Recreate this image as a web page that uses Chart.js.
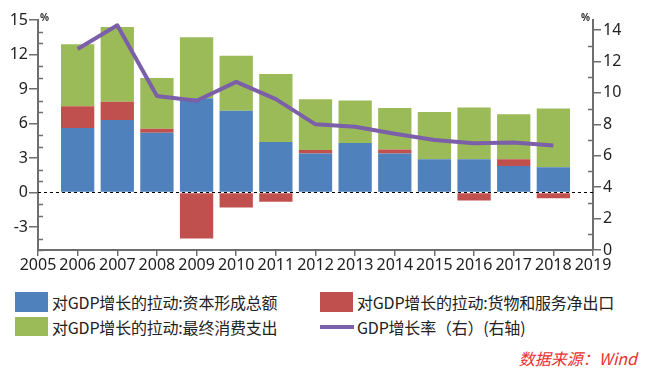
<!DOCTYPE html>
<html>
<head>
<meta charset="utf-8">
<script src="https://cdn.jsdelivr.net/npm/chart.js@4/dist/chart.umd.min.js"></script>
<style>
  html, body { margin: 0; padding: 0; background: #fff; }
  #wrap { position: relative; width: 655px; height: 380px; overflow: hidden; font-family: "Noto Sans CJK SC", "Noto Sans", sans-serif; color: #222; }
  #c { position: absolute; left: 0; top: 0; }
  .box { position: absolute; width: 33px; height: 20px; }
  .lbl { position: absolute; font-size: 16px; line-height: 20px; white-space: nowrap; letter-spacing: -0.2px; }
  .pct { position: absolute; font-size: 10px; font-weight: bold; font-family: "Noto Sans", sans-serif; color: #333; }
  #src { position: absolute; right: 18px; top: 347px; font-size: 16px; line-height: 22px; color: #e8312f; font-style: italic; }
</style>
</head>
<body>
<div id="wrap">
  <canvas id="c" width="655" height="282"></canvas>
  <div class="pct" style="left:40px; top:10px;">%</div>
  <div class="pct" style="left:581px; top:10px;">%</div>

  <div class="box" style="left:15px; top:292px; background:#4F81BD;"></div>
  <div class="lbl" style="left:52px; top:292px;">对GDP增长的拉动:资本形成总额</div>
  <div class="box" style="left:320px; top:292px; background:#C0504D;"></div>
  <div class="lbl" style="left:357px; top:292px;">对GDP增长的拉动:货物和服务净出口</div>
  <div class="box" style="left:15px; top:317px; height:19px; background:#9BBB59;"></div>
  <div class="lbl" style="left:52px; top:317px;">对GDP增长的拉动:最终消费支出</div>
  <div style="position:absolute; left:320px; top:325px; width:34px; height:4px; background:#7B5FA8;"></div>
  <div class="lbl" style="left:357px; top:317px;">GDP增长率（右）(右轴)</div>

  <div id="src">数据来源：Wind</div>
</div>
<script>
// ---- data ----
const years = [2006, 2007, 2008, 2009, 2010, 2011, 2012, 2013, 2014, 2015, 2016, 2017, 2018];
const capitalFormation = [5.6, 6.3, 5.2, 8.2, 7.1, 4.4, 3.4, 4.3, 3.4, 2.9, 2.9, 2.3, 2.2];
const netExports = [1.9, 1.6, 0.35, -4.0, -1.3, -0.8, 0.3, 0, 0.35, 0, -0.7, 0.6, -0.5];
const finalConsumption = [5.4, 6.5, 4.4, 5.3, 4.8, 5.9, 4.4, 3.7, 3.6, 4.1, 4.5, 3.9, 5.1];
const gdpGrowth = [12.8, 14.3, 9.8, 9.5, 10.7, 9.6, 8.0, 7.85, 7.4, 7.0, 6.8, 6.85, 6.65];
const xTicks = [2005, 2006, 2007, 2008, 2009, 2010, 2011, 2012, 2013, 2014, 2015, 2016, 2017, 2018, 2019];
const leftTicks = [-3, 0, 3, 6, 9, 12, 15];
const rightTicks = [0, 2, 4, 6, 8, 10, 12, 14];

const pts = arr => arr.map((v, i) => ({ x: years[i], y: v }));

const AXIS = '#6e6e6e';
const tickFont = { family: "'Noto Sans', 'Open Sans', sans-serif", size: 16 };

const extras = {
  id: 'extras',
  beforeDatasetsDraw(chart) {
    const { ctx, chartArea } = chart;
    const y0 = chart.scales.y.getPixelForValue(0);
    ctx.save();
    ctx.strokeStyle = '#000';
    ctx.lineWidth = 1;
    ctx.setLineDash([3, 3]);
    ctx.beginPath();
    ctx.moveTo(chartArea.left, y0);
    ctx.lineTo(chartArea.right, y0);
    ctx.stroke();
    ctx.restore();
  },
  afterDraw(chart) {
    const { ctx, chartArea } = chart;
    const yl = chart.scales.y, yr = chart.scales.yR;
    ctx.save();
    ctx.strokeStyle = AXIS;
    ctx.lineWidth = 1.5;
    ctx.beginPath();
    for (let v = Math.ceil(yl.min); v <= yl.max; v++) {
      if (leftTicks.includes(v)) continue;
      const p = Math.round(yl.getPixelForValue(v)) + 0.5;
      ctx.moveTo(chartArea.left, p);
      ctx.lineTo(chartArea.left + 5, p);
    }
    for (let v = Math.ceil(yr.min); v <= yr.max; v++) {
      if (rightTicks.includes(v)) continue;
      const p = Math.round(yr.getPixelForValue(v)) + 0.5;
      ctx.moveTo(chartArea.right, p);
      ctx.lineTo(chartArea.right - 5, p);
    }
    ctx.stroke();
    ctx.restore();
  }
};

new Chart(document.getElementById('c'), {
  data: {
    datasets: [
      { type: 'bar', label: '对GDP增长的拉动:资本形成总额', data: pts(capitalFormation), backgroundColor: '#4F81BD', yAxisID: 'y', order: 1, stack: 's' },
      { type: 'bar', label: '对GDP增长的拉动:货物和服务净出口', data: pts(netExports), backgroundColor: '#C0504D', yAxisID: 'y', order: 1, stack: 's' },
      { type: 'bar', label: '对GDP增长的拉动:最终消费支出', data: pts(finalConsumption), backgroundColor: '#9BBB59', yAxisID: 'y', order: 1, stack: 's' },
      { type: 'line', label: 'GDP增长率（右）(右轴)', data: pts(gdpGrowth), borderColor: '#7B5FA8', borderWidth: 4, pointRadius: 0, tension: 0, yAxisID: 'yR', order: 0, clip: false, borderJoinStyle: 'round', borderCapStyle: 'butt' }
    ]
  },
  options: {
    responsive: false,
    animation: false,
    devicePixelRatio: 1,
    layout: { padding: { top: 20, left: 0, right: 0, bottom: 0 } },
    datasets: { bar: { barPercentage: 0.84, categoryPercentage: 1.0 } },
    plugins: { legend: { display: false }, tooltip: { enabled: false } },
    scales: {
      x: {
        type: 'linear', min: 2005, max: 2019, offset: false, stacked: true,
        afterBuildTicks: s => { s.ticks = xTicks.map(v => ({ value: v })); },
        afterFit: s => { s.height = 32; },
        ticks: { font: tickFont, color: '#222', padding: 0, maxRotation: 0, autoSkip: false, callback: v => String(v) },
        grid: { drawOnChartArea: false, drawTicks: true, tickLength: 6, color: AXIS, lineWidth: 1.5, offset: false },
        border: { color: AXIS, width: 2 }
      },
      y: {
        type: 'linear', position: 'left', min: -5, max: 15, stacked: true,
        afterBuildTicks: s => { s.ticks = leftTicks.map(v => ({ value: v })); },
        afterFit: s => { s.width = 38; },
        ticks: { font: tickFont, color: '#222', padding: 1, callback: v => String(v) },
        grid: { drawOnChartArea: false, drawTicks: true, tickLength: 9, color: AXIS, lineWidth: 1.5 },
        border: { color: AXIS, width: 2 }
      },
      yR: {
        type: 'linear', position: 'right', min: 0, max: 14.64,
        afterBuildTicks: s => { s.ticks = rightTicks.map(v => ({ value: v })); },
        afterFit: s => { s.width = 62; },
        ticks: { font: tickFont, color: '#222', padding: 2, callback: v => String(v) },
        grid: { drawOnChartArea: false, drawTicks: true, tickLength: 8, color: AXIS, lineWidth: 1.5 },
        border: { color: AXIS, width: 2 }
      }
    }
  },
  plugins: [extras]
});
</script>
</body>
</html>
